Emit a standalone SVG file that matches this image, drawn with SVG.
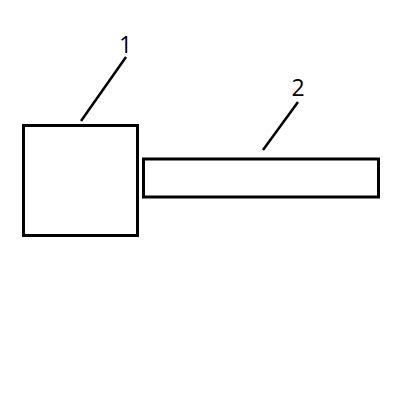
<svg xmlns="http://www.w3.org/2000/svg" width="400" height="401" viewBox="0 0 400 401">
<style>
.box{fill:none;stroke:#000;stroke-width:3}
.lead{stroke:#000;stroke-width:2.5;fill:none}
.lbl{font-family:"Open Sans","DejaVu Sans",sans-serif;font-size:23px;fill:#000;text-anchor:middle}
</style>
<rect width="400" height="401" fill="#fff"/>
<g id="node1"><rect class="box" x="23.5" y="125.5" width="114" height="110"/><text class="lbl" x="125.5" y="53">1</text></g>
<g id="node2"><rect class="box" x="143.5" y="159" width="235" height="38"/><text class="lbl" x="298" y="96">2</text></g>
<g id="connectors"><line class="lead" x1="126" y1="57" x2="81" y2="121"/><line class="lead" x1="298" y1="102" x2="263" y2="150"/></g>
</svg>
